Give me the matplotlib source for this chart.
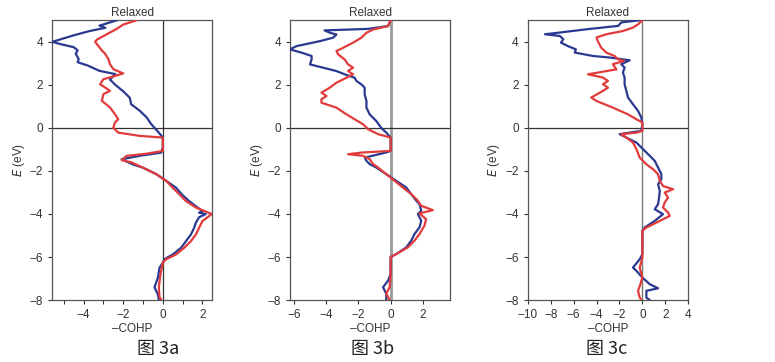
import matplotlib
matplotlib.use("Agg")
import matplotlib.pyplot as plt
from matplotlib.ticker import MultipleLocator

plt.rcParams['font.family'] = ['Liberation Sans Narrow', 'Liberation Sans', 'DejaVu Sans']

# ---- panel a ----
a_blue_e = [5.0, 4.9, 4.75, 4.65, 4.5, 4.3, 4.0, 3.9, 3.75, 3.6, 3.45, 3.2, 3.05, 2.9, 2.65, 2.5,
            2.25, 2.0, 1.7, 1.4, 1.1, 0.8, 0.5, 0.17, 0.0, -0.22, -0.45, -0.9, -1.15, -1.3, -1.46,
            -1.7, -1.85, -2.15, -2.46, -2.78, -3.1, -3.4, -3.7, -3.86, -3.94, -4.0, -4.15, -4.4,
            -4.64, -4.95, -5.26, -5.57, -5.88, -6.1, -6.26, -6.5, -6.96, -7.4, -7.74, -8.0]
a_blue_c = [-2.33, -2.67, -3.2, -2.9, -3.7, -4.5, -5.58, -5.2, -4.5, -4.3, -4.4, -4.25, -4.3, -3.8,
            -3.2, -2.4, -2.67, -2.4, -2.0, -1.67, -1.6, -1.17, -0.83, -0.58, -0.42, -0.2, 0.0, 0.0,
            -0.08, -1.2, -2.08, -1.5, -1.0, -0.33, 0.17, 0.67, 0.97, 1.33, 1.75, 2.0, 1.83, 2.17,
            1.83, 1.67, 1.58, 1.42, 1.17, 0.92, 0.5, 0.08, 0.0, -0.17, -0.25, -0.42, -0.25, -0.2]
a_red_e = [5.0, 4.8, 4.6, 4.35, 4.1, 4.0, 3.8, 3.6, 3.45, 3.2, 2.96, 2.73, 2.53, 2.42, 2.26, 2.03,
           1.88, 1.72, 1.57, 1.26, 0.95, 0.64, 0.4, 0.25, 0.0, -0.22, -0.37, -0.45, -1.07, -1.2,
           -1.3, -1.5, -1.6, -1.85, -2.15, -2.46, -2.78, -3.1, -3.4, -3.7, -4.0, -4.33, -4.64,
           -4.95, -5.26, -5.57, -5.88, -6.1, -6.26, -6.8, -7.4, -7.85, -8.0]
a_red_c = [-1.33, -2.0, -2.33, -2.83, -3.33, -3.42, -3.25, -3.08, -2.92, -2.75, -2.67, -2.5, -2.0,
           -2.4, -3.0, -3.17, -2.92, -2.67, -3.0, -3.08, -2.67, -2.42, -2.25, -2.42, -2.5, -2.25,
           -1.17, 0.0, 0.0, -0.83, -1.83, -2.08, -1.58, -1.0, -0.33, 0.17, 0.5, 0.85, 1.17, 1.67,
           2.47, 2.0, 1.83, 1.67, 1.42, 1.08, 0.67, 0.17, 0.0, -0.12, -0.2, -0.17, -0.08]

# ---- panel b ----
b_blue_e = [5.0, 4.73, 4.6, 4.53, 4.42, 4.34, 4.19, 4.03, 3.8, 3.65, 3.49, 3.34, 3.18, 2.95, 2.8,
            2.64, 2.49, 2.33, 2.18, 2.02, 1.87, 1.56, 1.25, 0.94, 0.63, 0.32, 0.0, -0.22, -0.45,
            -1.07, -1.14, -1.38, -1.53, -1.68, -1.84, -2.15, -2.46, -2.77, -3.08, -3.38, -3.54,
            -3.85, -4.0, -4.31, -4.62, -4.93, -5.24, -5.55, -5.86, -6.0, -6.79, -7.1, -7.4, -7.7,
            -8.0]
b_blue_c = [0.0, -0.16, -1.4, -4.1, -3.77, -3.36, -3.57, -4.39, -5.83, -6.25, -5.5, -4.9, -4.9,
            -5.0, -4.2, -3.36, -2.85, -2.23, -2.12, -1.81, -1.61, -1.61, -1.5, -1.5, -1.3, -0.89,
            -0.58, -0.27, 0.0, 0.0, -0.27, -1.6, -1.5, -1.3, -0.89, -0.27, 0.35, 0.97, 1.28, 1.59,
            1.79, 1.9, 1.69, 1.9, 1.79, 1.48, 1.28, 0.97, 0.35, 0.0, 0.0, -0.16, -0.47, -0.27, -0.27]
b_red_e = [5.0, 4.73, 4.57, 4.42, 4.19, 3.96, 3.72, 3.57, 3.42, 3.18, 2.95, 2.8, 2.64, 2.49, 2.33,
           2.1, 1.87, 1.64, 1.48, 1.33, 1.17, 0.94, 0.63, 0.4, 0.17, -0.06, -0.29, -0.45, -1.07,
           -1.14, -1.22, -1.3, -1.45, -1.68, -1.84, -2.15, -2.46, -2.77, -3.08, -3.38, -3.62,
           -3.82, -3.97, -4.24, -4.54, -4.93, -5.24, -5.55, -5.86, -6.0, -6.8, -7.4, -7.7, -8.0]
b_red_c = [0.0, -0.16, -1.09, -1.5, -1.81, -2.33, -2.95, -3.36, -3.26, -2.85, -2.64, -2.33, -2.64,
           -2.33, -2.74, -3.36, -3.77, -4.29, -3.98, -4.29, -4.29, -3.36, -2.74, -2.23, -1.71,
           -1.4, -0.78, 0.0, 0.0, -1.7, -2.64, -1.7, -1.3, -1.09, -0.78, -0.27, 0.25, 0.76, 1.28,
           1.69, 1.9, 2.62, 1.79, 2.2, 2.1, 1.79, 1.48, 1.07, 0.35, 0.0, 0.0, -0.06, -0.27, -0.06]

# ---- panel c ----
c_blue_e = [5.0, 4.9, 4.74, 4.58, 4.43, 4.35, 4.27, 4.12, 3.96, 3.8, 3.65, 3.5, 3.34, 3.27, 3.14,
            2.96, 2.8, 2.57, 2.34, 2.03, 1.72, 1.41, 1.1, 0.79, 0.48, 0.17, -0.14, -0.29, -0.45,
            -0.68, -0.91, -1.22, -1.53, -1.84, -2.15, -2.38, -2.62, -2.93, -3.24, -3.54, -3.78,
            -4.01, -4.32, -4.63, -4.78, -5.87, -6.1, -6.49, -6.64, -6.95, -7.26, -7.45, -7.57,
            -7.88, -8.0]
c_blue_c = [-0.23, -1.84, -2.1, -4.9, -7.2, -8.5, -7.2, -6.9, -7.1, -6.5, -5.8, -5.9, -4.3, -2.86,
            -1.1, -1.84, -1.55, -1.7, -1.55, -1.55, -1.4, -1.25, -0.82, -0.38, -0.09, 0.0, -0.1,
            -1.98, -1.4, -0.52, -0.09, 0.5, 1.08, 1.37, 1.66, 1.66, 1.37, 1.52, 1.46, 1.37, 1.08,
            1.8, 1.08, 0.2, 0.0, 0.0, -0.23, -0.82, -0.52, 0.0, 0.64, 1.37, 0.35, 0.35, 0.64]
c_red_e = [5.0, 4.81, 4.66, 4.5, 4.35, 4.2, 4.04, 3.73, 3.5, 3.34, 3.19, 3.11, 2.96, 2.72, 2.57,
           2.49, 2.34, 2.18, 2.03, 1.87, 1.72, 1.41, 1.25, 0.94, 0.63, 0.4, 0.25, -0.14, -0.22,
           -0.29, -0.45, -0.68, -0.99, -1.38, -1.69, -1.92, -2.15, -2.46, -2.7, -2.85, -3.0,
           -3.24, -3.47, -3.7, -3.93, -4.09, -4.32, -4.63, -4.78, -6.02, -6.49, -6.95, -7.26,
           -7.57, -7.88, -8.0]
c_red_c = [0.0, -0.38, -0.82, -1.7, -3.15, -4.0, -3.9, -3.6, -3.15, -2.42, -2.13, -1.6, -2.57,
           -2.27, -3.88, -4.75, -3.44, -3.0, -3.44, -3.0, -3.44, -4.46, -4.0, -2.57, -1.25, -0.52,
           0.0, 0.0, -0.5, -1.84, -1.4, -0.82, -0.52, -0.23, 0.35, 0.93, 1.37, 1.52, 1.8, 2.68,
           1.95, 2.24, 1.95, 1.8, 2.24, 2.39, 1.52, 0.35, 0.0, 0.0, -0.23, 0.0, -0.17, -0.38,
           -0.23, -0.09]

captions = ["图 3a", "图 3b", "图 3c"]

panels = [
    (a_blue_c, a_blue_e, a_red_c, a_red_e, (-5.6, 2.5), 1, '#333333', 0.9),
    (b_blue_c, b_blue_e, b_red_c, b_red_e, (-6.25, 3.7), None, '#9a9a9a', 2.0),
    (c_blue_c, c_blue_e, c_red_c, c_red_e, (-10, 4), None, '#777777', 1.0),
]
lefts = [0.067, 0.374, 0.681]
cap_x = [0.204, 0.481, 0.783]

fig = plt.figure(figsize=(7.75, 3.62), dpi=100)
blue = '#2b3990'
red = '#e23b3b'

for i, (bc, be, rc, re_, xlim, minor, zcol, zlw) in enumerate(panels):
    ax = fig.add_axes([lefts[i], 0.171, 0.207, 0.773])
    ax.axvline(0, color=zcol, lw=zlw, zorder=1)
    ax.axhline(0, color='#333333', lw=0.9, zorder=1)
    ax.plot(bc, be, color=blue, lw=1.6, zorder=3)
    ax.plot(rc, re_, color=red, lw=1.6, zorder=4)
    ax.set_xlim(*xlim)
    ax.set_ylim(-8, 5)
    ax.xaxis.set_major_locator(MultipleLocator(2))
    if minor:
        ax.xaxis.set_minor_locator(MultipleLocator(minor))
    ax.yaxis.set_major_locator(MultipleLocator(2))
    ax.tick_params(labelsize=8.5, colors='#333333', length=3, width=0.8)
    ax.tick_params(which='minor', length=3, width=0.8, colors='#333333')
    for s in ax.spines.values():
        s.set_color('#555555')
        s.set_linewidth(0.9)
    ax.set_xlabel("\u2013COHP", fontsize=8.5, labelpad=1, color='#333333')
    ax.set_ylabel(r"$\it{E}$ (eV)", fontsize=8.5, labelpad=2, color='#333333')
    ax.set_title("Relaxed", fontsize=8.5, pad=3, color='#333333')
    ax.set_xticklabels([f"{t:g}".replace('-', '\u2212') for t in ax.get_xticks()])
    ax.set_yticklabels([f"{t:g}".replace('-', '\u2212') for t in ax.get_yticks()])
    fig.text(cap_x[i], 0.035, captions[i], fontsize=13, ha='center', va='center',
             family=['Noto Sans CJK SC', 'DejaVu Sans'], fontweight='light', color='#222222')

fig.savefig("out.png", dpi=100)
